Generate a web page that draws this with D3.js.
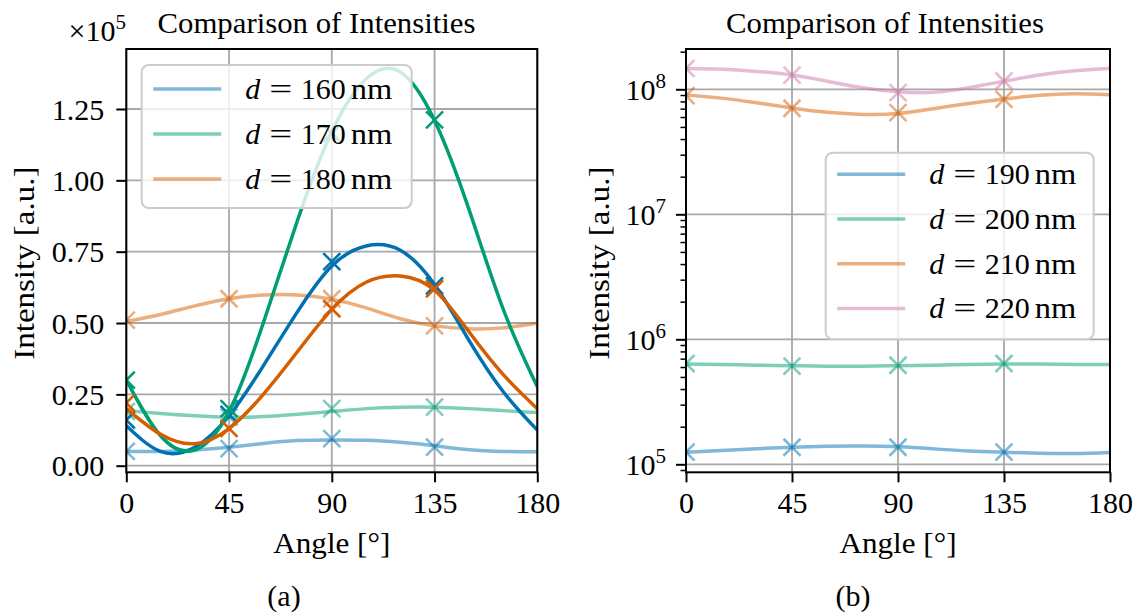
<!DOCTYPE html>
<html><head><meta charset="utf-8">
<script src="https://cdn.jsdelivr.net/npm/d3@7"></script>
<style>body{margin:0;background:#fff}svg{display:block}text{font-family:"Liberation Serif","DejaVu Serif",serif;fill:#000}</style>
</head><body><svg id="c" width="1137" height="616"></svg>
<script>
// ---------------- DATA ----------------
const curveAngles = [0,15,30,45,60,75,90,105,120,135,150,165,180];
const markerAngles = [0,45,90,135];
const xTicks = [0,45,90,135,180];

// Panel (a): values in units of 1e5 (axis offset "×10^5")
const aLabels = ["160","170","180"];
// light (legend) series
const a160Curve = [0.050,0.050,0.055,0.065,0.078,0.088,0.090,0.089,0.082,0.070,0.056,0.050,0.049];
const a160Marks = [0.050,0.060,0.095,0.065];
const a170Curve = [0.193,0.183,0.175,0.170,0.172,0.180,0.190,0.200,0.205,0.205,0.200,0.193,0.186];
const a170Marks = [0.190,0.170,0.200,0.205];
const a180Curve = [0.505,0.530,0.560,0.585,0.598,0.598,0.583,0.553,0.515,0.490,0.480,0.483,0.500];
const a180Marks = [0.510,0.585,0.585,0.490];
// dark (unlabelled) series
const a160DarkCurve = [0.140,0.050,0.065,0.175,0.350,0.540,0.700,0.770,0.755,0.635,0.440,0.260,0.125];
const a160DarkMarks = [0.160,0.180,0.715,0.630];
const a170DarkCurve = [0.300,0.105,0.055,0.190,0.500,0.860,1.170,1.355,1.380,1.210,0.900,0.550,0.277];
const a170DarkMarks = [0.300,0.200,1.165,1.212];
const a180DarkCurve = [0.200,0.110,0.077,0.130,0.250,0.400,0.548,0.643,0.665,0.615,0.470,0.320,0.200];
const a180DarkMarks = [0.220,0.131,0.550,0.620];
const aYTicks = [0,0.25,0.5,0.75,1.0,1.25];
const aYTickLabels = ["0.00","0.25","0.50","0.75","1.00","1.25"];

// Panel (b): log axis
const bLabels = ["190","200","210","220"];
const b190Curve = [1.25e5,1.29e5,1.33e5,1.37e5,1.395e5,1.40e5,1.38e5,1.33e5,1.28e5,1.25e5,1.225e5,1.22e5,1.245e5];
const b190Marks = [1.25e5,1.37e5,1.37e5,1.25e5];
const b200Curve = [6.35e5,6.3e5,6.2e5,6.15e5,6.1e5,6.1e5,6.15e5,6.2e5,6.3e5,6.35e5,6.35e5,6.3e5,6.3e5];
const b200Marks = [6.4e5,6.1e5,6.2e5,6.4e5];
const b210Curve = [9.0e7,8.5e7,7.8e7,7.1e7,6.55e7,6.3e7,6.4e7,7.0e7,7.7e7,8.35e7,8.95e7,9.2e7,9.05e7];
const b210Marks = [8.9e7,7.05e7,6.5e7,8.3e7];
const b220Curve = [1.47e8,1.45e8,1.39e8,1.30e8,1.16e8,1.03e8,0.955e8,0.945e8,1.03e8,1.16e8,1.30e8,1.41e8,1.47e8];
const b220Marks = [1.47e8,1.30e8,0.94e8,1.165e8];
const bYMajor = [1e5,1e6,1e7,1e8];
const bYMajorExp = ["5","6","7","8"];

const titleText = "Comparison of Intensities";
const xLabelText = "Angle [°]";
const yLabelText = "Intensity [a.u.]";

// ---------------- STYLE ----------------
const C = {blue:"#0072B2", green:"#009E73", verm:"#D55E00", pink:"#CC79A7"};
const FS = 30, TFS = 29.5;

const svg = d3.select("#c");
svg.append("rect").attr("width",1137).attr("height",616).attr("fill","#fff");

function panel(opts){
  const {left,right,top,bottom,id} = opts;
  const x = d3.scaleLinear([0,180],[left,right]);
  const y = opts.y;
  const g = svg.append("g");
  g.append("clipPath").attr("id",id).append("rect")
    .attr("x",left).attr("y",top).attr("width",right-left).attr("height",bottom-top);
  // grid
  const grid = g.append("g").attr("stroke","#a8a8a8").attr("stroke-width",1.8);
  xTicks.forEach(t=>grid.append("line").attr("x1",x(t)).attr("x2",x(t)).attr("y1",top).attr("y2",bottom));
  opts.gridY.forEach(t=>grid.append("line").attr("x1",left).attr("x2",right).attr("y1",y(t)).attr("y2",y(t)));
  // series
  const plot = g.append("g").attr("clip-path",`url(#${id})`);
  const line = d3.line().x(d=>x(d[0])).y(d=>y(d[1])).curve(d3.curveNatural);
  opts.series.forEach(s=>{
    plot.append("path").datum(d3.zip(curveAngles,s.curve)).attr("d",line)
      .attr("fill","none").attr("stroke",s.color).attr("stroke-opacity",s.alpha)
      .attr("stroke-width",3.5).attr("stroke-linecap","butt");
    const m = 8.5;
    d3.zip(markerAngles,s.marks).forEach(([a,v])=>{
      const cx=x(a), cy=y(v);
      plot.append("path").attr("d",`M${cx-m},${cy-m}L${cx+m},${cy+m}M${cx-m},${cy+m}L${cx+m},${cy-m}`)
        .attr("stroke",s.color).attr("stroke-opacity",s.alpha).attr("stroke-width",2.6).attr("fill","none");
    });
  });
  // spines
  g.append("rect").attr("x",left).attr("y",top).attr("width",right-left).attr("height",bottom-top)
    .attr("fill","none").attr("stroke","#000").attr("stroke-width",2);
  // x axis ticks
  const xa = d3.axisBottom(x).tickValues(xTicks).tickSize(10).tickPadding(9.7).tickFormat(d3.format("d"));
  const xg = g.append("g").attr("transform",`translate(0,${bottom})`).call(xa);
  xg.select(".domain").remove();
  xg.selectAll(".tick line").attr("stroke","#000").attr("stroke-width",2);
  xg.selectAll(".tick text").attr("font-size",FS).attr("font-family","Liberation Serif").attr("dy","0.71em").attr("fill","#000");
  // y ticks
  opts.yAxis(g,y);
  // titles & labels
  const cx = (left+right)/2;
  g.append("text").attr("x",opts.titleX).attr("y",32.7).attr("text-anchor","middle").attr("font-size",TFS)
    .attr("textLength",318).attr("lengthAdjust","spacingAndGlyphs").text(titleText);
  g.append("text").attr("x",cx).attr("y",553).attr("text-anchor","middle").attr("font-size",FS)
    .attr("textLength",117).attr("lengthAdjust","spacingAndGlyphs").text(xLabelText);
  g.append("text").attr("transform",`translate(${opts.ylabX},${(top+bottom)/2+2.5}) rotate(-90)`)
    .attr("text-anchor","middle").attr("font-size",FS)
    .attr("textLength",193).attr("lengthAdjust","spacingAndGlyphs").text(yLabelText);
  g.append("text").attr("x",opts.capX).attr("y",606).attr("text-anchor","middle").attr("font-size",FS).text(opts.cap);
  // legend
  const L = opts.legend;
  const lg = g.append("g");
  lg.append("rect").attr("x",L.x).attr("y",L.y).attr("width",L.w).attr("height",L.h).attr("rx",7)
    .attr("fill","#fff").attr("fill-opacity",0.8).attr("stroke","#cccccc").attr("stroke-width",2);
  opts.series.filter(s=>s.label).forEach((s,i)=>{
    const ry = L.row0 + i*L.dy;
    lg.append("line").attr("x1",L.x+11.5).attr("x2",L.x+79.5).attr("y1",ry).attr("y2",ry)
      .attr("stroke",s.color).attr("stroke-opacity",s.alpha).attr("stroke-width",3.5);
    const tx = L.x+103.6, by = ry+10;
    lg.append("text").attr("x",tx).attr("y",by).attr("font-size",FS).attr("font-style","italic").text("d");
    lg.append("text").attr("x",tx+24).attr("y",by).attr("font-size",FS)
      .attr("textLength",23).attr("lengthAdjust","spacingAndGlyphs").text("=");
    lg.append("text").attr("x",tx+55.5).attr("y",by).attr("font-size",FS).text(s.label);
    lg.append("text").attr("x",tx+105.5).attr("y",by).attr("font-size",FS)
      .attr("textLength",41.5).attr("lengthAdjust","spacingAndGlyphs").text("nm");
  });
}

// Panel (a)
const yA = d3.scaleLinear([-0.02313,1.46025],[472.3,49]);
panel({
  id:"clipA", left:126.3, right:537.3, top:49, bottom:472.3, y:yA, gridY:aYTicks,
  ylabX:34, capX:284, cap:"(a)", titleX:316.5,
  series:[
    {curve:a160Curve, marks:a160Marks, color:C.blue, alpha:0.5, label:aLabels[0]},
    {curve:a170Curve, marks:a170Marks, color:C.green, alpha:0.5, label:aLabels[1]},
    {curve:a180Curve, marks:a180Marks, color:C.verm, alpha:0.5, label:aLabels[2]},
    {curve:a160DarkCurve, marks:a160DarkMarks, color:C.blue, alpha:1},
    {curve:a170DarkCurve, marks:a170DarkMarks, color:C.green, alpha:1},
    {curve:a180DarkCurve, marks:a180DarkMarks, color:C.verm, alpha:1}
  ],
  legend:{x:141.7,y:65,w:270,h:143,row0:89,dy:45},
  yAxis:(g,y)=>{
    const ya = d3.axisLeft(y).tickValues(aYTicks).tickSize(10).tickPadding(12)
      .tickFormat((d,i)=>aYTickLabels[i]);
    const yg = g.append("g").attr("transform","translate(126.3,0)").call(ya);
    yg.select(".domain").remove();
    yg.selectAll(".tick line").attr("stroke","#000").attr("stroke-width",2);
    yg.selectAll(".tick text").attr("font-size",FS).attr("font-family","Liberation Serif").attr("fill","#000").attr("dy","0.34em");
    g.append("text").attr("x",126).attr("y",40.7).attr("text-anchor","end").attr("font-size",FS)
      .text("×10").append("tspan").attr("dy",-12).attr("font-size",21).text("5");
  }
});

// Panel (b)
const yB = d3.scaleLog([86300,2.101e8],[472.3,49]);
panel({
  id:"clipB", left:686, right:1110, top:49, bottom:472.3, y:yB, gridY:bYMajor,
  ylabX:609, capX:853, cap:"(b)", titleX:885,
  series:[
    {curve:b190Curve, marks:b190Marks, color:C.blue, alpha:0.5, label:bLabels[0]},
    {curve:b200Curve, marks:b200Marks, color:C.green, alpha:0.5, label:bLabels[1]},
    {curve:b210Curve, marks:b210Marks, color:C.verm, alpha:0.5, label:bLabels[2]},
    {curve:b220Curve, marks:b220Marks, color:C.pink, alpha:0.5, label:bLabels[3]}
  ],
  legend:{x:825.7,y:152.7,w:268,h:186.6,row0:174.3,dy:44.7},
  yAxis:(g,y)=>{
    const [d0,d1] = y.domain();
    const minor = [];
    for(let e=4;e<=8;e++) for(let k=2;k<=9;k++){const v=k*Math.pow(10,e); if(v>=d0&&v<=d1) minor.push(v);}
    const mg = g.append("g").attr("transform","translate(686,0)")
      .call(d3.axisLeft(y).tickValues(minor).tickSize(5.5).tickFormat(""));
    mg.select(".domain").remove();
    mg.selectAll(".tick line").attr("stroke","#000").attr("stroke-width",1.5);
    const yg = g.append("g").attr("transform","translate(686,0)")
      .call(d3.axisLeft(y).tickValues(bYMajor).tickSize(10).tickFormat(""));
    yg.select(".domain").remove();
    yg.selectAll(".tick line").attr("stroke","#000").attr("stroke-width",2);
    bYMajor.forEach((v,i)=>{
      g.append("text").attr("x",666).attr("y",y(v)+10.5).attr("text-anchor","end").attr("font-size",FS)
        .text("10").append("tspan").attr("dy",-12).attr("font-size",21).text(bYMajorExp[i]);
    });
  }
});
</script></body></html>
